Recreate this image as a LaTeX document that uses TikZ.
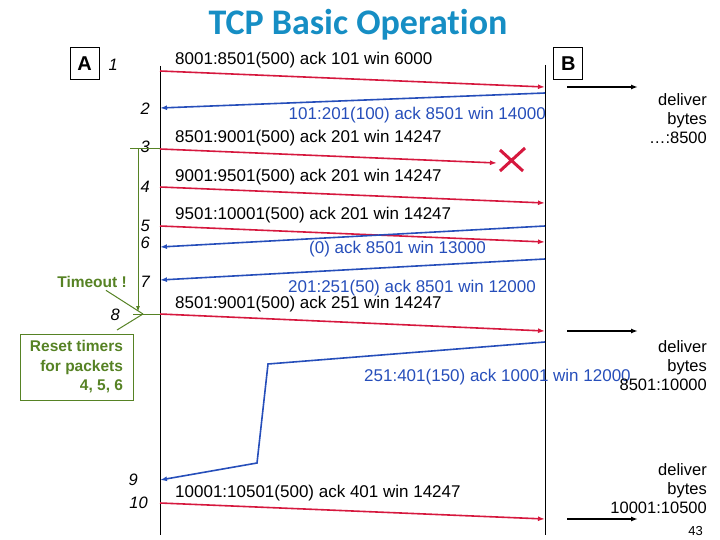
\documentclass[tikz,border=0pt]{standalone}
\usepackage{fontspec}
\setmainfont{Liberation Sans}
\newfontfamily\titlefont[Ligatures=NoCommon]{Carlito}
\usetikzlibrary{arrows.meta}
\definecolor{segred}{RGB}{214,24,62}
\definecolor{ackblue}{RGB}{38,78,186}
\definecolor{tmgreen}{RGB}{86,130,36}
\definecolor{titleblue}{RGB}{22,142,196}
\begin{document}
\begin{tikzpicture}[x=1pt,y=-1pt,
  seg/.style={segred,line width=1.6pt,-{Latex[length=7pt,width=5pt]}},
  ack/.style={ackblue,line width=1.6pt,-{Latex[length=7pt,width=5pt]}},
  msg/.style={anchor=base west,inner sep=0pt,font=\fontsize{17}{19}\selectfont},
  num/.style={anchor=base east,inner sep=0pt,font=\fontsize{16.5}{19}\selectfont\itshape},
  dlv/.style={anchor=north east,align=right,inner sep=0pt,font=\fontsize{16.5}{19}\selectfont},
  host/.style={draw,line width=0.8pt,minimum width=29pt,minimum height=32pt,inner sep=0pt,font=\fontsize{20}{24}\selectfont\bfseries},
  tmr/.style={tmgreen,line width=1pt}]
\useasboundingbox (0,0) rectangle (720,540);
\node[anchor=base,text=titleblue,font=\titlefont\bfseries\fontsize{36}{40}\selectfont](title) at (358,35){TCP Basic Operation};
\node[host](A) at (84.7,63.5){A};
\node[host](B) at (568.3,63.8){B};
\coordinate (At) at (160,66);
\coordinate (Ab) at (160,535);
\coordinate (Bt) at (545,65);
\coordinate (Bb) at (545,535);
\draw[line width=0.8pt] (At) -- (Ab);
\draw[line width=0.8pt] (Bt) -- (Bb);
\node[num](n1) at (118,71){1};
\node[num](n2) at (150,115){2};
\node[num](n3) at (150,153){3};
\node[num](n4) at (150,193){4};
\node[num](n5) at (150,232){5};
\node[num](n6) at (150,248){6};
\node[num](n7) at (150,287){7};
\node[num](n8) at (120,320){8};
\node[num](n9) at (138,485){9};
\node[num](n10) at (148,508){10};
\coordinate (a1) at (160,71);
\coordinate (b1) at (545,87);
\draw[seg] (a1) -- (b1);
\coordinate (b2) at (545,93);
\coordinate (a2) at (160,108);
\draw[ack] (b2) -- (a2);
\coordinate (a3) at (160,149);
\coordinate (lost) at (512,160);
\coordinate (x3) at (497,163);
\draw[seg] (a3) -- (x3);
\draw[segred,line width=3pt] (lost) +(-12,-10) -- +(11,11) (lost) +(13,-12) -- +(-12,11);
\coordinate (a4) at (160,187);
\coordinate (b4) at (545,203);
\draw[seg] (a4) -- (b4);
\coordinate (a5) at (160,226);
\coordinate (b5) at (545,242);
\draw[seg] (a5) -- (b5);
\coordinate (b6) at (545,226);
\coordinate (a6) at (160,247);
\draw[ack] (b6) -- (a6);
\coordinate (b7) at (545,259);
\coordinate (a7) at (160,280);
\draw[ack] (b7) -- (a7);
\coordinate (a8) at (160,314);
\coordinate (b8) at (545,331);
\draw[seg] (a8) -- (b8);
\coordinate (b9) at (545,342);
\coordinate (k1) at (268,364);
\coordinate (k2) at (257,463);
\coordinate (a9) at (160,480);
\draw[ack] (b9) -- (k1) -- (k2) -- (a9);
\coordinate (a10) at (160,503);
\coordinate (b10) at (545,519);
\draw[seg] (a10) -- (b10);
\node[msg](m1) at (175,65){8001:8501(500) ack 101 win 6000};
\node[msg,text=ackblue,anchor=base east](m2) at (546,120){101:201(100) ack 8501 win 14000};
\node[msg](m3) at (175,143){8501:9001(500) ack 201 win 14247};
\node[msg](m4) at (175,182){9001:9501(500) ack 201 win 14247};
\node[msg](m5) at (175,220){9501:10001(500) ack 201 win 14247};
\node[msg,text=ackblue](m6) at (309,254){(0) ack 8501 win 13000};
\node[msg,text=ackblue](m7) at (288,292){201:251(50) ack 8501 win 12000};
\node[msg](m8) at (175,308){8501:9001(500) ack 251 win 14247};
\node[msg,text=ackblue](m9) at (364,381){251:401(150) ack 10001 win 12000};
\node[msg](m10) at (175,497){10001:10501(500) ack 401 win 14247};
\coordinate (d1s) at (567,87);
\coordinate (d1e) at (638,87);
\draw[line width=1.6pt,-{Latex[length=7pt,width=5pt]}] (d1s) -- (d1e);
\coordinate (d2s) at (567,331);
\coordinate (d2e) at (638,331);
\draw[line width=1.6pt,-{Latex[length=7pt,width=5pt]}] (d2s) -- (d2e);
\coordinate (d3s) at (567,519);
\coordinate (d3e) at (638,519);
\draw[line width=1.6pt,-{Latex[length=7pt,width=5pt]}] (d3s) -- (d3e);
\node[dlv](dl1) at (707,93){deliver\\bytes\\…:8500};
\node[dlv](dl2) at (707,340){deliver\\bytes\\8501:10000};
\node[dlv](dl3) at (707,463){deliver\\bytes\\10001:10500};
\coordinate (g3) at (130,149);
\draw[tmr] (g3) -- (a3);
\coordinate (gv) at (138,149);
\coordinate (gve) at (138,312);
\draw[tmr,-{Latex[length=6pt,width=4pt]}] (gv) -- (gve);
\coordinate (g8) at (133,314);
\draw[tmr] (g8) -- (a8);
\node[anchor=base east,inner sep=3pt,text=tmgreen,font=\fontsize{15.5}{19}\selectfont\bfseries](tmo) at (130,287){Timeout !};
\coordinate (hit) at (143,314);
\draw[tmr] (tmo) -- (hit);
\node[draw=tmgreen,line width=1pt,minimum width=113pt,minimum height=66pt,align=right,text=tmgreen,font=\fontsize{15.5}{19.5}\selectfont\bfseries](rst) at (76.5,367){Reset timers\\for packets\\4, 5, 6};
\coordinate (rt) at (117,330);
\draw[tmr] (hit) -- (rt);
\node[anchor=base east,inner sep=0pt,font=\fontsize{13}{15}\selectfont](pg) at (703,535){43};
\end{tikzpicture}
\end{document}
